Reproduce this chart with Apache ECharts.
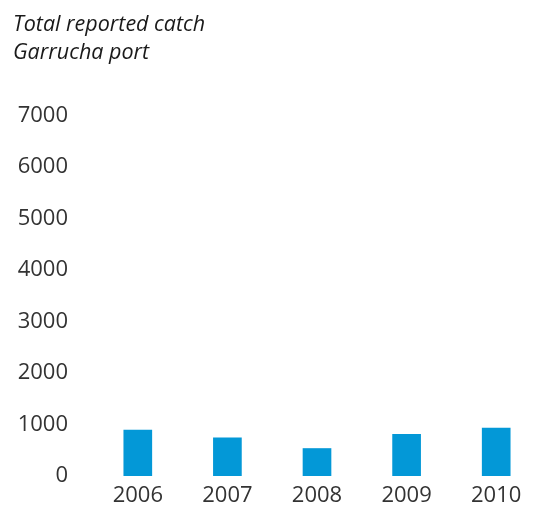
<!DOCTYPE html>
<html>
<head>
<meta charset="utf-8">
<style>
  html, body { margin: 0; padding: 0; background: #ffffff; }
  #chart { width: 538px; height: 506px; }
</style>
<script src="https://cdn.jsdelivr.net/npm/echarts@6/dist/echarts.min.js"></script>
</head>
<body>
<div id="chart"></div>
<script>
// Total reported catch by year, Garrucha port
const years = ['2006', '2007', '2008', '2009', '2010'];
const catchValues = [900, 750, 540, 815, 935];
const yTicks = { min: 0, max: 7000, interval: 1000 };

const chart = echarts.init(document.getElementById('chart'), null, { renderer: 'canvas' });
chart.setOption({
  animation: false,
  backgroundColor: '#ffffff',
  title: {
    text: 'Total reported catch\nGarrucha port',
    left: 8,
    top: 6,
    textStyle: {
      fontFamily: 'Open Sans',
      fontStyle: 'italic',
      fontWeight: 'normal',
      fontSize: 21.5,
      lineHeight: 28,
      color: '#1a1a1a'
    }
  },
  grid: { left: 93, width: 448, top: 115.5, bottom: 30, outerBoundsMode: 'none' },
  xAxis: {
    type: 'category',
    data: years,
    axisLine: { show: false },
    axisTick: { show: false },
    axisLabel: {
      fontFamily: 'Open Sans',
      fontSize: 22,
      color: '#333333',
      margin: 9
    }
  },
  yAxis: {
    type: 'value',
    min: yTicks.min,
    max: yTicks.max,
    interval: yTicks.interval,
    splitLine: { show: false },
    axisLine: { show: false },
    axisTick: { show: false },
    axisLabel: {
      fontFamily: 'Open Sans',
      fontSize: 22,
      color: '#333333',
      margin: 25,
      formatter: (v) => String(v)
    }
  },
  series: [{
    type: 'bar',
    data: catchValues,
    barWidth: '32%',
    itemStyle: { color: '#0398d7' }
  }]
});
</script>
</body>
</html>
